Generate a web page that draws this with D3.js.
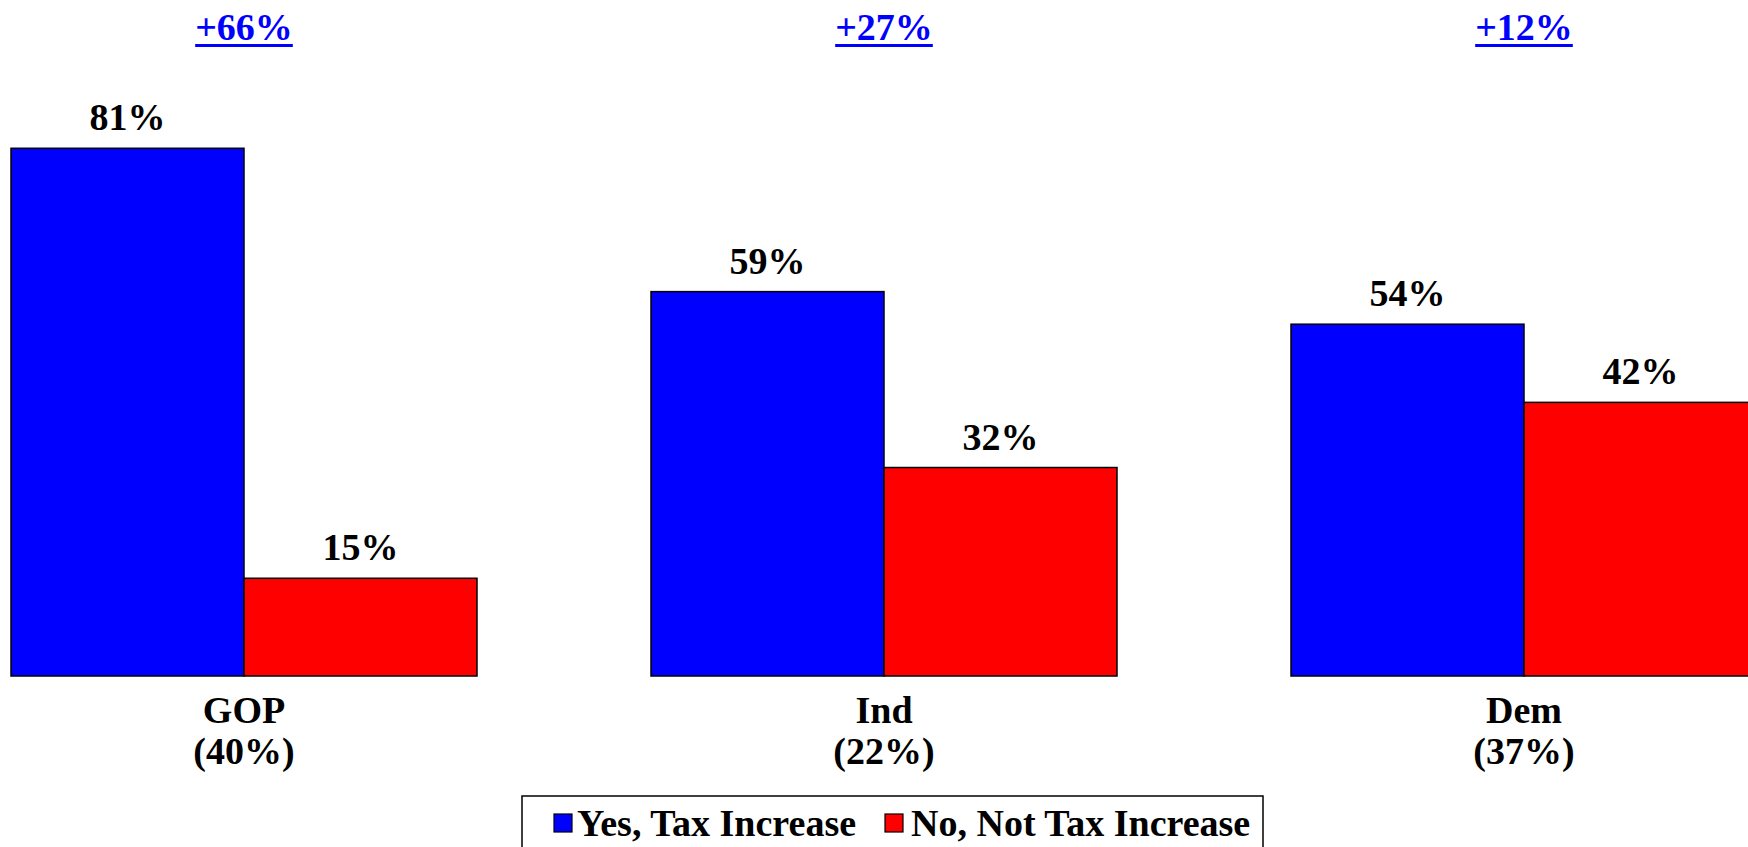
<!DOCTYPE html>
<html>
<head>
<meta charset="utf-8">
<script src="https://cdn.jsdelivr.net/npm/d3@7/dist/d3.min.js"></script>
<style>
  html, body { margin: 0; padding: 0; background: #fff; overflow: hidden; }
  svg { display: block; }
  text { font-family: "Liberation Serif", "Times New Roman", serif; font-weight: bold; }
</style>
</head>
<body>
<svg id="chart" width="1748" height="847"></svg>
<script>
const categories = ["GOP", "Ind", "Dem"];
const categoryShares = ["(40%)", "(22%)", "(37%)"];
const series = ["Yes, Tax Increase", "No, Not Tax Increase"];
const yesValues = [81, 59, 54];
const noValues = [15, 32, 42];
const diffLabels = ["+66%", "+27%", "+12%"];
const colors = ["#0000FF", "#FF0000"];

const svg = d3.select("#chart");
const FS = 38;

const x0 = d3.scaleBand().domain(categories).range([11, 1757]).paddingInner(174 / 640).paddingOuter(0);
const x1 = d3.scaleBand().domain(series).range([0, x0.bandwidth()]).padding(0);
const y = d3.scaleLinear().domain([0, 100]).range([676, 24.5]);

const rows = categories.map((c, i) => ({
  cat: c, share: categoryShares[i], diff: diffLabels[i],
  vals: [
    { s: series[0], v: yesValues[i], color: colors[0] },
    { s: series[1], v: noValues[i], color: colors[1] }
  ]
}));

const g = svg.selectAll("g.group").data(rows).join("g")
  .attr("class", "group")
  .attr("transform", d => `translate(${x0(d.cat)},0)`);

g.selectAll("rect").data(d => d.vals).join("rect")
  .attr("x", d => x1(d.s))
  .attr("y", d => y(d.v))
  .attr("width", x1.bandwidth())
  .attr("height", d => y(0) - y(d.v))
  .attr("fill", d => d.color)
  .attr("stroke", "#000")
  .attr("stroke-width", 1.5);

g.selectAll("text.val").data(d => d.vals).join("text")
  .attr("class", "val")
  .attr("x", d => x1(d.s) + x1.bandwidth() / 2)
  .attr("y", d => y(d.v) - 18)
  .attr("text-anchor", "middle")
  .attr("font-size", FS)
  .attr("fill", "#000")
  .text(d => d.v + "%");

// category labels
g.append("text")
  .attr("x", x0.bandwidth() / 2)
  .attr("y", 723)
  .attr("text-anchor", "middle")
  .attr("font-size", FS)
  .text(d => d.cat);
g.append("text")
  .attr("x", x0.bandwidth() / 2)
  .attr("y", 764)
  .attr("text-anchor", "middle")
  .attr("font-size", FS)
  .text(d => d.share);

// difference labels (underlined, blue)
g.each(function(d) {
  const grp = d3.select(this);
  const t = grp.append("text")
    .attr("x", x0.bandwidth() / 2)
    .attr("y", 40)
    .attr("text-anchor", "middle")
    .attr("font-size", FS)
    .attr("fill", "#0000FF")
    .text(d.diff);
  const w = t.node().getComputedTextLength();
  grp.append("rect")
    .attr("x", x0.bandwidth() / 2 - w / 2)
    .attr("y", 44)
    .attr("width", w)
    .attr("height", 3)
    .attr("fill", "#0000FF");
});

// legend
const legend = svg.append("g");
legend.append("rect")
  .attr("x", 522).attr("y", 796)
  .attr("width", 741).attr("height", 70)
  .attr("fill", "#fff").attr("stroke", "#000").attr("stroke-width", 1.5);

const legendItems = [
  { s: series[0], color: colors[0], sx: 554, tx: 577 },
  { s: series[1], color: colors[1], sx: 885, tx: 911 }
];
const li = legend.selectAll("g.item").data(legendItems).join("g").attr("class", "item");
li.append("rect")
  .attr("x", d => d.sx).attr("y", 814)
  .attr("width", 18).attr("height", 18)
  .attr("fill", d => d.color).attr("stroke", "#000").attr("stroke-width", 1.2);
li.append("text")
  .attr("x", d => d.tx).attr("y", 836)
  .attr("font-size", FS)
  .text(d => d.s);
</script>
</body>
</html>
